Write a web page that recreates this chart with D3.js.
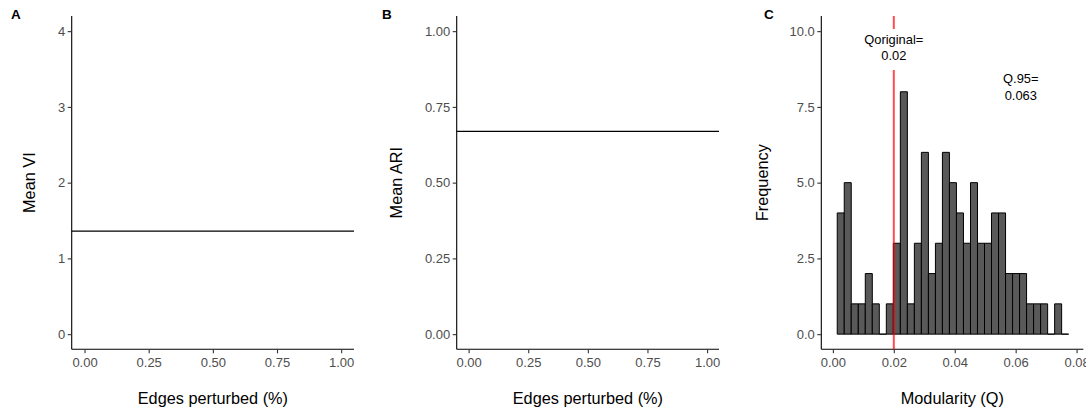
<!DOCTYPE html>
<html><head><meta charset="utf-8">
<script src="https://cdn.jsdelivr.net/npm/d3@7"></script>
<style>
body{margin:0;background:#fff;}
svg text{font-family:"Liberation Sans",Arial,sans-serif;}
</style></head>
<body><svg id="c" width="1086" height="410"></svg>
<script>
// ---- data ----
const meanVI = 1.36;
const meanARI = 0.669;
const perturbTicks = [0, 0.25, 0.5, 0.75, 1.0];
const viTicks = [0, 1, 2, 3, 4];
const ariTicks = [0, 0.25, 0.5, 0.75, 1.0];
const binEdges = [0.00143,0.00373,0.00603,0.00834,0.01064,0.01294,0.01524,0.01754,0.01985,0.02215,0.02445,0.02675,0.02905,0.03136,0.03366,0.03596,0.03826,0.04056,0.04287,0.04517,0.04747,0.04977,0.05207,0.05438,0.05668,0.05898,0.06128,0.06358,0.06589,0.06819,0.07049,0.07279,0.07509,0.07739];
const binCounts = [4,5,1,1,2,1,0,1,3,8,1,3,6,2,3,6,5,4,3,5,3,3,4,4,2,2,2,1,1,1,0,1,0];
const qOriginal = 0.02;
const q95 = 0.063;
const q95LabelX = 0.0617;
const modTicks = [0, 0.02, 0.04, 0.06, 0.08];
const freqTicks = [0, 2.5, 5, 7.5, 10];

const svg = d3.select("#c");
const pTop = 16, pBottom = 349.3;

function panel(o){
  const x = d3.scaleLinear().domain(o.xd).range([o.left, o.right]);
  const y = d3.scaleLinear().domain(o.yd).range([pBottom, pTop]);
  const g = svg.append("g");
  const xa = g.append("g").attr("transform",`translate(0,${pBottom})`)
    .call(d3.axisBottom(x).tickValues(o.xt).tickFormat(o.xf).tickSizeOuter(0).tickSize(4).tickPadding(4));
  const ya = g.append("g").attr("transform",`translate(${o.left},0)`)
    .call(d3.axisLeft(y).tickValues(o.yt).tickFormat(o.yf).tickSizeOuter(0).tickSize(4).tickPadding(2.5));
  [xa,ya].forEach(a=>{
    a.select(".domain").attr("stroke","#000").attr("stroke-width",1.1);
    a.selectAll(".tick line").attr("stroke","#333").attr("stroke-width",1.1);
    a.selectAll(".tick text").attr("fill","#4d4d4d").style("font-size","13px");
  });
  xa.select(".domain").attr("d",`M${o.left},0H${o.right}`);
  ya.select(".domain").attr("d",`M0,${pBottom}V${pTop}`);
  g.append("text").attr("x",(o.left+o.right)/2).attr("y",404).attr("text-anchor","middle")
    .style("font-size","16.3px").attr("fill","#000").text(o.xlab);
  g.append("text").attr("transform",`translate(${o.ytx},${(pTop+pBottom)/2}) rotate(-90)`)
    .attr("text-anchor","middle").attr("dy","0.35em").style("font-size","16.3px").attr("fill","#000").text(o.ylab);
  g.append("text").attr("x",o.tagx).attr("y",19).style("font-size","13.5px").style("font-weight","bold").text(o.tag);
  return {x,y,g};
}

// Panel A
const A = panel({left:71.7,right:354,xd:[-0.05,1.05],yd:[-0.2,4.2],xt:perturbTicks,yt:viTicks,
  xf:d3.format(".2f"),yf:d3.format("d"),xlab:"Edges perturbed (%)",ylab:"Mean VI",ytx:29.3,tag:"A",tagx:11});
A.g.append("line").attr("x1",71.7).attr("x2",354).attr("y1",A.y(meanVI)).attr("y2",A.y(meanVI))
  .attr("stroke","#000").attr("stroke-width",1.2);

// Panel B
const B = panel({left:456.7,right:719,xd:[-0.05,1.05],yd:[-0.05,1.05],xt:perturbTicks,yt:ariTicks,
  xf:d3.format(".2f"),yf:d3.format(".2f"),xlab:"Edges perturbed (%)",ylab:"Mean ARI",ytx:396.7,tag:"B",tagx:382});
B.g.append("line").attr("x1",456.7).attr("x2",719).attr("y1",B.y(meanARI)).attr("y2",B.y(meanARI))
  .attr("stroke","#000").attr("stroke-width",1.2);

// Panel C
const C = panel({left:821.3,right:1083.3,xd:[-0.0038,0.0822],yd:[-0.5,10.5],xt:modTicks,yt:freqTicks,
  xf:d3.format(".2f"),yf:d3.format(".1f"),xlab:"Modularity (Q)",ylab:"Frequency",ytx:762.7,tag:"C",tagx:764});
const bins = binCounts.map((c,i)=>({x0:binEdges[i],x1:binEdges[i+1],c}));
C.g.append("g").selectAll("path").data(bins).join("path")
  .attr("d",d=>`M${C.x(d.x0)},${C.y(0)}V${C.y(d.c)}H${C.x(d.x1)}V${C.y(0)}Z`)
  .attr("fill","#595959").attr("stroke","#000").attr("stroke-width",1);
C.g.append("line").attr("x1",C.x(qOriginal)).attr("x2",C.x(qOriginal)).attr("y1",pTop).attr("y2",pBottom)
  .attr("stroke","red").attr("stroke-opacity",0.7).attr("stroke-width",2);
const lx = C.x(qOriginal);
C.g.append("rect").attr("x",lx-34).attr("y",29).attr("width",68).attr("height",41).attr("fill","#fff");
C.g.append("text").attr("x",lx).attr("y",44).attr("text-anchor","middle").style("font-size","12.9px").text("Qoriginal=");
C.g.append("text").attr("x",lx).attr("y",60).attr("text-anchor","middle").style("font-size","12.9px").text(String(qOriginal));
const qx = C.x(q95LabelX);
C.g.append("text").attr("x",qx).attr("y",83).attr("text-anchor","middle").style("font-size","12.9px").text("Q.95=");
C.g.append("text").attr("x",qx).attr("y",100).attr("text-anchor","middle").style("font-size","12.9px").text(String(q95));
</script></body></html>
